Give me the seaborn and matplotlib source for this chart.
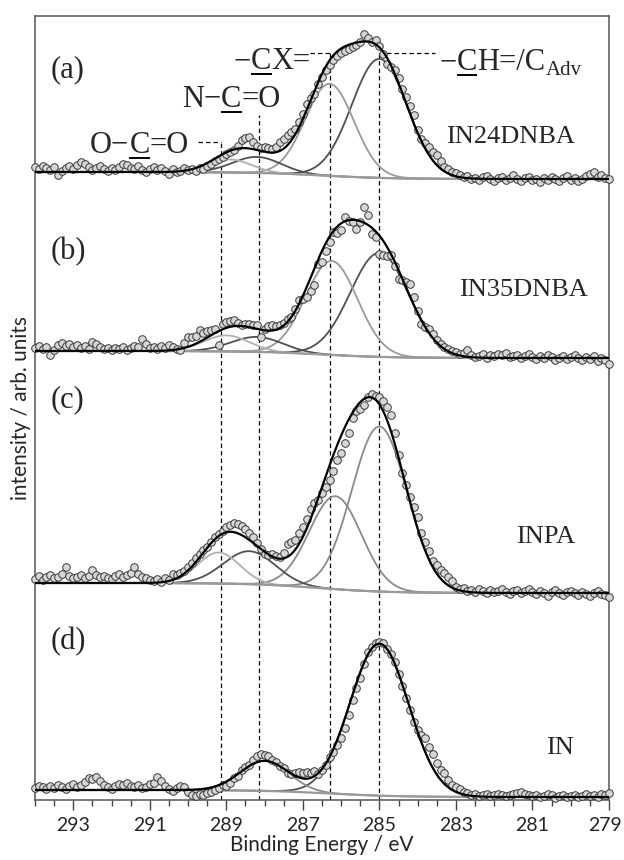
import numpy as np
import matplotlib
matplotlib.use("Agg")
import matplotlib.pyplot as plt
from matplotlib.ticker import MultipleLocator
from matplotlib.transforms import ScaledTranslation
import seaborn as sns

# -------------------------------
# Data
# -------------------------------

# measured binding energy grid, eV
energy = np.round(np.arange(294.0, 278.95, -0.1), 1)

# point intensities above each trace's high-BE baseline (arb. units)
in24dnba = [
    5, 3, 6, 4, 2, 5, -3, 1, 4, 6, 3,
    7, 10, 8, 5, 2, 4, 6, 3, 1, 4,
    2, 5, 8, 7, 4, 3, 6, 2, 0, 3,
    5, 2, 4, 1, -2, 3, 0, 1, 4, 2,
    3, 1, 4, 3, 6, 8, 11, 13, 15, 18,
    20, 22, 26, 32, 34, 35, 30, 26, 24, 25,
    24, 23, 25, 30, 33, 37, 40, 43, 50, 58,
    68, 74, 78, 88, 95, 102, 107, 112, 116, 119,
    121, 123, 125, 127, 130, 138, 134, 130, 132, 126,
    118, 108, 105, 102, 94, 83, 75, 66, 57, 42,
    33, 29, 25, 20, 17, 11, 5, 3, 0, -1,
    -3, -5, -4, -7, -6, -8, -5, -4, -7, -9,
    -6, -5, -8, -6, -3, -7, -9, -6, -5, -8,
    -7, -10, -6, -8, -5, -7, -9, -6, -4, -8,
    -6, -9, -7, -4, -2, 0, -5, -3, -6, -7,
]
in35dnba = [
    3, 5, 2, 4, -4, 1, 6, 8, 5, 7, 4,
    6, 3, 5, 2, 9, 7, 4, 2, 3, 1,
    3, 2, 4, 1, 3, 5, 4, 12, 7, 3,
    4, 2, 5, 3, 6, 4, 2, 1, 8, 14,
    14, 15, 21, 18, 20, 21, 22, 6, 27, 29,
    30, 31, 28, 26, 27, 27, 26, 26, 14, 22,
    25, 26, 25, 26, 28, 32, 34, 42, 51, 52,
    54, 60, 66, 87, 89, 100, 109, 119, 118, 121,
    134, 130, 129, 122, 129, 144, 136, 117, 114, 97,
    96, 95, 96, 85, 72, 71, 69, 67, 54, 40,
    27, 24, 22, 17, 11, 7, 4, 2, 0, -1,
    -3, -2, 1, -4, -6, -5, -3, -7, -4, -5,
    -3, -4, -2, -6, -5, -4, -7, -5, -3, -6,
    -8, -5, -7, -4, -6, -9, -7, -5, -8, -6,
    -4, -7, -9, -6, -8, -5, -10, -7, -9, -13,
]
inpa = [
    4, 7, 3, 6, 8, 5, 6, 9, 16, 7, 5,
    6, 8, 5, 7, 13, 8, 6, 7, 5, 4,
    7, 9, 6, 8, 10, 16, 9, 6, 5, 3,
    2, 4, 1, 5, 3, 9, 8, 10, 12, 16,
    20, 25, 29, 33, 36, 41, 46, 49, 52, 56,
    58, 60, 59, 57, 54, 50, 46, 40, 34, 29,
    28, 29, 27, 26, 30, 39, 41, 43, 50, 56,
    64, 74, 80, 83, 90, 96, 103, 112, 123, 130,
    140, 150, 165, 172, 174, 178, 186, 189, 187, 186,
    182, 176, 168, 150, 128, 110, 98, 86, 76, 66,
    50, 41, 32, 22, 18, 13, 10, 6, 2, -4,
    -6, -5, -8, -7, -9, -6, -8, -10, -7, -9,
    -8, -6, -9, -11, -8, -7, -10, -8, -6, -9,
    -11, -8, -10, -13, -9, -7, -10, -12, -9, -8,
    -10, -12, -9, -11, -13, -10, -8, -11, -12, -14,
]
in_pure = [
    2, 4, 3, 1, 4, 2, 5, 3, 1, 4, 6,
    3, 5, 8, 12, 11, 13, 9, 5, 3, 1,
    4, 6, 5, 7, 4, 3, 5, 2, 3, 6,
    7, 13, 9, 4, 1, -1, 2, 4, 3, -2,
    -5, -6, -4, -5, -3, -2, 0, 2, 5, 4,
    7, 12, 14, 20, 23, 25, 30, 34, 36, 35,
    34, 30, 28, 24, 22, 17, 16, 17, 18, 17,
    18, 17, 19, 16, 20, 25, 33, 38, 45, 52,
    62, 75, 90, 102, 112, 126, 138, 143, 147, 148,
    147, 141, 136, 128, 116, 104, 92, 80, 68, 60,
    55, 52, 43, 36, 27, 20, 17, 10, 5, 3,
    1, -2, -3, -5, -4, -6, -5, -4, -6, -5,
    -4, -5, -6, -5, -4, -3, -2, -4, -5, -6,
    -5, -7, -6, -4, -5, -8, -6, -5, -7, -6,
    -5, -7, -6, -4, -6, -5, -7, -4, -5, -3,
]

samples = ["IN24DNBA", "IN35DNBA", "INPA", "IN"]
panel_tags = ["(a)", "(b)", "(c)", "(d)"]
spectra = [in24dnba, in35dnba, inpa, in_pure]
offsets = [628, 449, 217, 10]

# fitted components: centre (eV), height, FWHM (eV), shade
fit_centers = [[285.0, 286.3, 288.2, 288.9],
               [285.0, 286.25, 288.2, 289.0],
               [285.0, 286.15, 288.4, 289.2],
               [285.0, 288.0]]
fit_heights = [[119, 92, 16, 13],
               [104, 94, 15, 16],
               [165, 93, 33, 31],
               [152, 30]]
fit_fwhm = [[1.7, 1.5, 1.5, 1.3],
            [1.8, 1.6, 1.6, 1.4],
            [1.7, 1.6, 1.6, 1.3],
            [1.8, 1.5]]
fit_shade = [["#505050", "#9a9a9a", "#505050", "#b0b0b0"],
             ["#505050", "#9a9a9a", "#505050", "#b0b0b0"],
             ["#8a8a8a", "#8a8a8a", "#505050", "#b0b0b0"],
             ["#505050", "#8a8a8a"]]
# Shirley-like step background: total drop, mid point (eV)
bg_drop = [7, 7, 10, 7]
bg_mid = [286.5, 286.5, 286.6, 286.3]

# reference energies of the chemical states
guide_energy = [289.15, 288.15, 286.3, 285.0]
guide_top = [658, 685, 747, 747]

# chemical state labels: pieces (text, underlined, size, baseline shift), left x, baseline y
chem_labels = [
    ([("O\u2212", False, 22, 0), ("C", True, 22, 0), ("=O", False, 22, 0)], 292.56, 647),
    ([("N\u2212", False, 22, 0), ("C", True, 22, 0), ("=O", False, 22, 0)], 290.16, 693),
    ([("\u2212", False, 22, 0), ("C", True, 22, 0), ("X=", False, 22, 0)], 288.80, 731),
    ([("\u2212", False, 22, 0), ("C", True, 22, 0), ("H=/C", False, 22, 0),
      ("Adv", False, 15, -5)], 283.42, 730),
]

# -------------------------------
# Style
# -------------------------------

sns.set_style("white")
plt.rcParams["font.family"] = ["Lato", "DejaVu Sans"]

fig = plt.figure(figsize=(6.24, 8.6), dpi=100)
ax = fig.add_axes([35 / 624, 60 / 860, 574 / 624, 784 / 860])
ax.set_xlim(294, 279)
ax.set_ylim(0, 784)

e_fine = np.linspace(294, 279, 751)


def gauss(e, c, h, w):
    return h * np.exp(-4 * np.log(2) * (e - c) ** 2 / w ** 2)


for i in range(4):
    off = offsets[i]
    bg = -bg_drop[i] / (1 + np.exp((e_fine - bg_mid[i]) / 0.9))
    total = bg.copy()
    for c, h, w, col in zip(fit_centers[i], fit_heights[i], fit_fwhm[i], fit_shade[i]):
        comp = gauss(e_fine, c, h, w)
        total += comp
        sns.lineplot(x=e_fine, y=bg + comp + off, ax=ax, color=col, lw=1.3,
                     estimator=None, sort=False, zorder=2)
    sns.lineplot(x=e_fine, y=bg + off, ax=ax, color="#9a9a9a", lw=1.6,
                 estimator=None, sort=False, zorder=2)
    sns.scatterplot(x=energy, y=np.array(spectra[i]) + off, ax=ax, s=30,
                    color="#d6d6d6", edgecolor="#3a3a3a", linewidth=0.7,
                    zorder=3, clip_on=False)
    sns.lineplot(x=e_fine, y=total + off, ax=ax, color="black", lw=1.6,
                 estimator=None, sort=False, zorder=4)

# dashed guide lines
dash = (0, (3.5, 2.5))
for x, top in zip(guide_energy, guide_top):
    ax.plot([x, x], [0, top], ls=dash, color="black", lw=0.9, zorder=1)
ax.plot([289.75, guide_energy[0]], [guide_top[0]] * 2, ls=dash, color="black", lw=0.9)
ax.plot([286.82, guide_energy[2]], [guide_top[2]] * 2, ls=dash, color="black", lw=0.9)
ax.plot([guide_energy[3], 283.55], [guide_top[3]] * 2, ls=dash, color="black", lw=0.9)

# chemical state labels, written piece by piece so the C can be underlined
renderer = fig.canvas.get_renderer()
inv = ax.transData.inverted()
for pieces, x0, y0 in chem_labels:
    x = x0
    for txt, under, size, dy in pieces:
        t = ax.text(x, y0 + dy, txt, family="Liberation Serif", fontsize=size,
                    ha="left", va="baseline")
        bb = t.get_window_extent(renderer)
        x_end = inv.transform((bb.x1, bb.y0))[0]
        if under:
            ax.plot([x, x_end], [y0 - 5, y0 - 5], color="black", lw=1.4,
                    solid_capstyle="butt")
        x = x_end

# panel tags and sample names
tag_y = [730, 548, 400, 158]
name_x = [283.26, 282.92, 281.43, 280.65]
name_y = [663, 510, 263, 52]
for i in range(4):
    ax.text(293.6, tag_y[i], panel_tags[i], family="Liberation Serif",
            fontsize=22, va="center", ha="left")
    ax.text(name_x[i], name_y[i], samples[i], family="Liberation Serif",
            fontsize=19, va="center", ha="left")

# axes
ax.set_yticks([])
ax.set_xticks(np.arange(293, 278, -2))
ax.xaxis.set_minor_locator(MultipleLocator(0.5))
ax.tick_params(axis="x", which="major", direction="out", length=7, width=1,
               color="#444444", labelsize=14, pad=5, bottom=True)
ax.tick_params(axis="x", which="minor", direction="out", length=4, width=1,
               color="#444444", bottom=True)
# keep the last label inside the canvas
last = ax.get_xticklabels()[-1]
last.set_transform(last.get_transform() + ScaledTranslation(-4 / 100, 0, fig.dpi_scale_trans))
for s in ax.spines.values():
    s.set_color("#555555")
    s.set_linewidth(1.1)
ax.set_xlabel("Binding Energy / eV", fontsize=15, labelpad=1)
ax.set_ylabel("intensity / arb. units", fontsize=15, labelpad=3)

fig.savefig("out.png", dpi=100)
